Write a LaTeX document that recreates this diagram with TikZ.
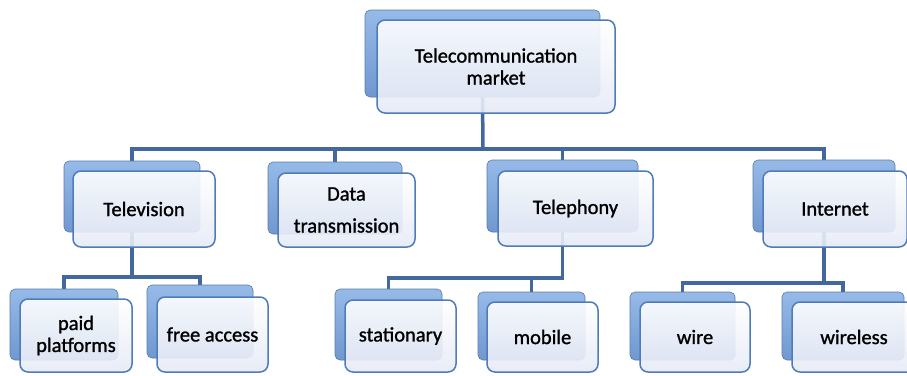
\documentclass[tikz,border=0pt]{standalone}
\usepackage{fontspec}
\setmainfont{Carlito}
\newfontfamily\boxfont{Carlito}[FakeBold=1.2]
\definecolor{backtop}{RGB}{150,186,232}
\definecolor{backbot}{RGB}{112,152,208}
\definecolor{frontline}{RGB}{79,124,185}
\definecolor{frontbot}{RGB}{230,234,246}
\definecolor{connline}{RGB}{66,104,158}
\tikzset{
  back/.style={rounded corners=5pt, top color=backtop, bottom color=backbot, draw=backbot!80!black, line width=0.6pt},
  front/.style={rounded corners=8pt, top color=white, bottom color=frontbot, fill opacity=0.9, text opacity=1, draw=frontline, line width=1.5pt, align=center, font=\boxfont\fontsize{20.5}{22}\selectfont},
  conn/.style={draw=connline, line width=3.5pt}
}
\begin{document}
\begin{tikzpicture}[x=1pt,y=-1pt]
\useasboundingbox (0,0) rectangle (907,375);
\coordinate (j0) at (483,149);
\coordinate (j1) at (133,277);
\coordinate (j3) at (563,278);
\coordinate (j4) at (825,283);
\draw[conn] (482.5,97) -- (j0);
\draw[conn] (j0) -| (132,161);
\draw[conn] (j0) -| (335,162);
\draw[conn] (j0) -| (562.5,160);
\draw[conn] (j0) -| (824,160);
\draw[conn] (132,232) |- (j1);
\draw[conn] (j1) -| (64,289);
\draw[conn] (j1) -| (200,285);
\draw[conn] (562.5,232) |- (j3);
\draw[conn] (j3) -| (388.5,289);
\draw[conn] (j3) -| (531.5,292);
\draw[conn] (824,232) |- (j4);
\draw[conn] (j4) -| (682.5,292);
\draw[conn] (j4) -| (843,292);
\node[back, minimum width=235, minimum height=87] (marketb) at (482.5,53.5) {};
\node[front, minimum width=238, minimum height=93] (market) at (496,66.5) {Telecommunication\\market};
\node[back, minimum width=136, minimum height=71] (tvb) at (132,196.5) {};
\node[front, minimum width=142, minimum height=76] (tv) at (144,209) {Television};
\node[back, minimum width=134, minimum height=72] (datab) at (335,198) {};
\node[front, minimum width=137, minimum height=74] (data) at (346.5,210) {Data\\[10pt]transmission};
\node[back, minimum width=151, minimum height=72] (phoneb) at (562.5,196) {};
\node[front, minimum width=155, minimum height=75] (phone) at (575.5,208.5) {Telephony};
\node[back, minimum width=142, minimum height=72] (netb) at (824,196) {};
\node[front, minimum width=144, minimum height=76] (net) at (835,209) {Internet};
\node[back, minimum width=108, minimum height=71] (paidb) at (64,324.5) {};
\node[front, minimum width=112, minimum height=73] (paid) at (76,335.5) {paid\\platforms};
\node[back, minimum width=106, minimum height=73] (freeb) at (200,321.5) {};
\node[front, minimum width=111, minimum height=75] (free) at (212.5,334.5) {free access};
\node[back, minimum width=107, minimum height=71] (statb) at (388.5,324.5) {};
\node[front, minimum width=111, minimum height=72] (stat) at (400.5,336) {stationary};
\node[back, minimum width=107, minimum height=68] (mobb) at (531.5,326) {};
\node[front, minimum width=111, minimum height=70] (mob) at (542.5,337) {mobile};
\node[back, minimum width=105, minimum height=68] (wireb) at (682.5,326) {};
\node[front, minimum width=110, minimum height=70] (wire) at (695,337) {wire};
\node[back, minimum width=122, minimum height=68] (wlessb) at (843,326) {};
\node[front, minimum width=124, minimum height=70] (wless) at (854,337) {wireless};
\end{tikzpicture}
\end{document}
